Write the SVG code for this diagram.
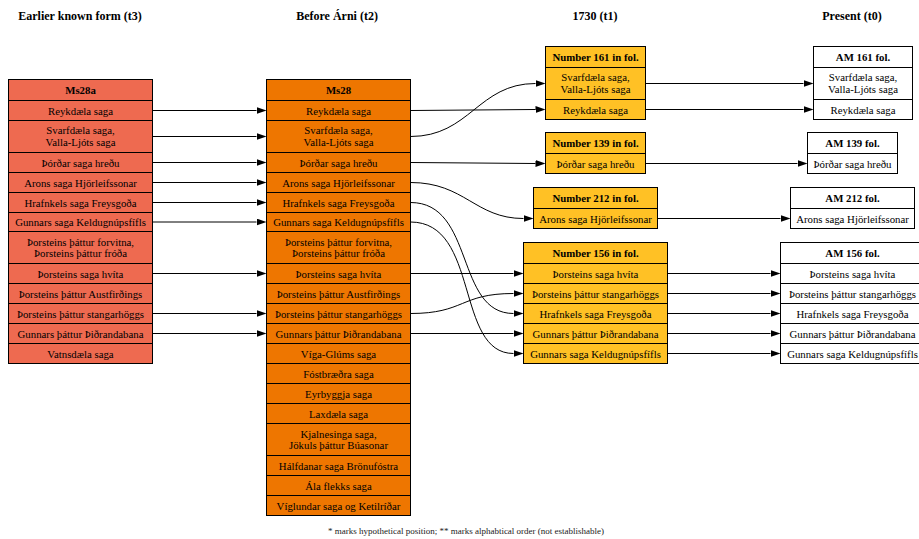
<svg xmlns="http://www.w3.org/2000/svg" width="919" height="539" viewBox="0 0 919 539">
  <defs>
    <marker id="arrow" markerUnits="userSpaceOnUse" markerWidth="10" markerHeight="8" refX="0" refY="3.5" orient="auto">
      <path d="M0,0 L10,3.5 L0,7 z" fill="#000"/>
    </marker>
  </defs>
  <style>
    text { font-family: "Liberation Serif", "Times New Roman", serif; font-size: 10.8px; fill: #000; text-anchor: middle; }
    .col { font-size: 12px; font-weight: bold; }
    .hd { font-weight: bold; }
    .note { font-size: 9px; fill: #222; }
    .tbl rect { stroke: #000; stroke-width: 1; }
    .t3 rect { fill: #EE6A50; }
    .t2 rect { fill: #EE7600; }
    .t1 rect { fill: #FFC125; }
    .t0 rect { fill: #FFFFFF; }
    .edge path { fill: none; stroke: #000; stroke-width: 1; marker-end: url(#arrow); }
  </style>
  <rect width="919" height="539" fill="#fff"/>

  <!-- column titles -->
  <g id="titles">
    <text class="col" x="80" y="20">Earlier known form (t3)</text>
    <text class="col" x="337" y="20">Before Árni (t2)</text>
    <text class="col" x="595" y="20">1730 (t1)</text>
    <text class="col" x="852" y="20">Present (t0)</text>
  </g>

  <!-- t3 -->
  <g id="Ms28a" class="tbl t3">
    <rect x="8.5" y="79.5" width="144" height="21"/>
    <rect x="8.5" y="100.5" width="144" height="20"/>
    <rect x="8.5" y="120.5" width="144" height="32"/>
    <rect x="8.5" y="152.5" width="144" height="20"/>
    <rect x="8.5" y="172.5" width="144" height="20"/>
    <rect x="8.5" y="192.5" width="144" height="20"/>
    <rect x="8.5" y="212.5" width="144" height="19"/>
    <rect x="8.5" y="231.5" width="144" height="32"/>
    <rect x="8.5" y="263.5" width="144" height="20"/>
    <rect x="8.5" y="283.5" width="144" height="20"/>
    <rect x="8.5" y="303.5" width="144" height="20"/>
    <rect x="8.5" y="323.5" width="144" height="20"/>
    <rect x="8.5" y="343.5" width="144" height="20"/>
    <text class="hd" x="80.5" y="94">Ms28a</text>
    <text x="80.5" y="114.5">Reykdæla saga</text>
    <text x="80.5" y="134">Svarfdæla saga,</text>
    <text x="80.5" y="145.5">Valla-Ljóts saga</text>
    <text x="80.5" y="166.5">Þórðar saga hreðu</text>
    <text x="80.5" y="186.5">Arons saga Hjörleifssonar</text>
    <text x="80.5" y="206.5">Hrafnkels saga Freysgoða</text>
    <text x="80.5" y="226">Gunnars saga Keldugnúpsfífls</text>
    <text x="80.5" y="245.5">Þorsteins þáttur forvitna,</text>
    <text x="80.5" y="257">Þorsteins þáttur fróða</text>
    <text x="80.5" y="277.5">Þorsteins saga hvíta</text>
    <text x="80.5" y="297.5">Þorsteins þáttur Austfirðings</text>
    <text x="80.5" y="317.5">Þorsteins þáttur stangarhöggs</text>
    <text x="80.5" y="337.5">Gunnars þáttur Þiðrandabana</text>
    <text x="80.5" y="357.5">Vatnsdæla saga</text>
  </g>

  <!-- t2 -->
  <g id="Ms28" class="tbl t2">
    <rect x="266.5" y="79.5" width="144" height="21"/>
    <rect x="266.5" y="100.5" width="144" height="20"/>
    <rect x="266.5" y="120.5" width="144" height="32"/>
    <rect x="266.5" y="152.5" width="144" height="20"/>
    <rect x="266.5" y="172.5" width="144" height="20"/>
    <rect x="266.5" y="192.5" width="144" height="20"/>
    <rect x="266.5" y="212.5" width="144" height="19"/>
    <rect x="266.5" y="231.5" width="144" height="32"/>
    <rect x="266.5" y="263.5" width="144" height="20"/>
    <rect x="266.5" y="283.5" width="144" height="20"/>
    <rect x="266.5" y="303.5" width="144" height="20"/>
    <rect x="266.5" y="323.5" width="144" height="20"/>
    <rect x="266.5" y="343.5" width="144" height="20"/>
    <rect x="266.5" y="363.5" width="144" height="20"/>
    <rect x="266.5" y="383.5" width="144" height="20"/>
    <rect x="266.5" y="403.5" width="144" height="20"/>
    <rect x="266.5" y="423.5" width="144" height="32"/>
    <rect x="266.5" y="455.5" width="144" height="20"/>
    <rect x="266.5" y="475.5" width="144" height="20"/>
    <rect x="266.5" y="495.5" width="144" height="20"/>
    <text class="hd" x="338.5" y="94">Ms28</text>
    <text x="338.5" y="114.5">Reykdæla saga</text>
    <text x="338.5" y="134">Svarfdæla saga,</text>
    <text x="338.5" y="145.5">Valla-Ljóts saga</text>
    <text x="338.5" y="166.5">Þórðar saga hreðu</text>
    <text x="338.5" y="186.5">Arons saga Hjörleifssonar</text>
    <text x="338.5" y="206.5">Hrafnkels saga Freysgoða</text>
    <text x="338.5" y="226">Gunnars saga Keldugnúpsfífls</text>
    <text x="338.5" y="245.5">Þorsteins þáttur forvitna,</text>
    <text x="338.5" y="257">Þorsteins þáttur fróða</text>
    <text x="338.5" y="277.5">Þorsteins saga hvíta</text>
    <text x="338.5" y="297.5">Þorsteins þáttur Austfirðings</text>
    <text x="338.5" y="317.5">Þorsteins þáttur stangarhöggs</text>
    <text x="338.5" y="337.5">Gunnars þáttur Þiðrandabana</text>
    <text x="338.5" y="357.5">Víga-Glúms saga</text>
    <text x="338.5" y="377.5">Fóstbræðra saga</text>
    <text x="338.5" y="397.5">Eyrbyggja saga</text>
    <text x="338.5" y="417.5">Laxdæla saga</text>
    <text x="338.5" y="437.5">Kjalnesinga saga,</text>
    <text x="338.5" y="449">Jökuls þáttur Búasonar</text>
    <text x="338.5" y="469.5">Hálfdanar saga Brönufóstra</text>
    <text x="338.5" y="489.5">Ála flekks saga</text>
    <text x="338.5" y="509.5">Víglundar saga og Ketilríðar</text>
  </g>

  <!-- t1 -->
  <g id="No161" class="tbl t1">
    <rect x="545.5" y="46.5" width="100" height="21"/>
    <rect x="545.5" y="67.5" width="100" height="32"/>
    <rect x="545.5" y="99.5" width="100" height="20"/>
    <text class="hd" x="595.5" y="61">Number 161 in fol.</text>
    <text x="595.5" y="81">Svarfdæla saga,</text>
    <text x="595.5" y="92.5">Valla-Ljóts saga</text>
    <text x="595.5" y="113.5">Reykdæla saga</text>
  </g>
  <g id="No139" class="tbl t1">
    <rect x="545.5" y="132.5" width="100" height="21"/>
    <rect x="545.5" y="153.5" width="100" height="20"/>
    <text class="hd" x="595.5" y="147">Number 139 in fol.</text>
    <text x="595.5" y="167.5">Þórðar saga hreðu</text>
  </g>
  <g id="No212" class="tbl t1">
    <rect x="533.5" y="187.5" width="124" height="21"/>
    <rect x="533.5" y="208.5" width="124" height="20"/>
    <text class="hd" x="595.5" y="202">Number 212 in fol.</text>
    <text x="595.5" y="222.5">Arons saga Hjörleifssonar</text>
  </g>
  <g id="No156" class="tbl t1">
    <rect x="523.5" y="242.5" width="144" height="21"/>
    <rect x="523.5" y="263.5" width="144" height="20"/>
    <rect x="523.5" y="283.5" width="144" height="20"/>
    <rect x="523.5" y="303.5" width="144" height="20"/>
    <rect x="523.5" y="323.5" width="144" height="20"/>
    <rect x="523.5" y="343.5" width="144" height="20"/>
    <text class="hd" x="595.5" y="257">Number 156 in fol.</text>
    <text x="595.5" y="277.5">Þorsteins saga hvíta</text>
    <text x="595.5" y="297.5">Þorsteins þáttur stangarhöggs</text>
    <text x="595.5" y="317.5">Hrafnkels saga Freysgoða</text>
    <text x="595.5" y="337.5">Gunnars þáttur Þiðrandabana</text>
    <text x="595.5" y="357.5">Gunnars saga Keldugnúpsfífls</text>
  </g>

  <!-- t0 -->
  <g id="AM161" class="tbl t0">
    <rect x="813.5" y="46.5" width="99" height="21"/>
    <rect x="813.5" y="67.5" width="99" height="32"/>
    <rect x="813.5" y="99.5" width="99" height="20"/>
    <text class="hd" x="863" y="61">AM 161 fol.</text>
    <text x="863" y="81">Svarfdæla saga,</text>
    <text x="863" y="92.5">Valla-Ljóts saga</text>
    <text x="863" y="113.5">Reykdæla saga</text>
  </g>
  <g id="AM139" class="tbl t0">
    <rect x="807.5" y="132.5" width="90" height="21"/>
    <rect x="807.5" y="153.5" width="90" height="20"/>
    <text class="hd" x="852.5" y="147">AM 139 fol.</text>
    <text x="852.5" y="167.5">Þórðar saga hreðu</text>
  </g>
  <g id="AM212" class="tbl t0">
    <rect x="790.5" y="187.5" width="124" height="21"/>
    <rect x="790.5" y="208.5" width="124" height="20"/>
    <text class="hd" x="852.5" y="202">AM 212 fol.</text>
    <text x="852.5" y="222.5">Arons saga Hjörleifssonar</text>
  </g>
  <g id="AM156" class="tbl t0">
    <rect x="780.5" y="242.5" width="144" height="21"/>
    <rect x="780.5" y="263.5" width="144" height="20"/>
    <rect x="780.5" y="283.5" width="144" height="20"/>
    <rect x="780.5" y="303.5" width="144" height="20"/>
    <rect x="780.5" y="323.5" width="144" height="20"/>
    <rect x="780.5" y="343.5" width="144" height="20"/>
    <text class="hd" x="852.5" y="257">AM 156 fol.</text>
    <text x="852.5" y="277.5">Þorsteins saga hvíta</text>
    <text x="852.5" y="297.5">Þorsteins þáttur stangarhöggs</text>
    <text x="852.5" y="317.5">Hrafnkels saga Freysgoða</text>
    <text x="852.5" y="337.5">Gunnars þáttur Þiðrandabana</text>
    <text x="852.5" y="357.5">Gunnars saga Keldugnúpsfífls</text>
  </g>

  <!-- connectors -->
  <g id="edges" class="edge">
    <!-- t3 to t2 -->
    <path d="M152.5,110.5 L256.5,110.5"/>
    <path d="M152.5,136.5 L256.5,136.5"/>
    <path d="M152.5,162.5 L256.5,162.5"/>
    <path d="M152.5,182.5 L256.5,182.5"/>
    <path d="M152.5,202.5 L256.5,202.5"/>
    <path d="M152.5,222 L256.5,222"/>
    <path d="M152.5,273.5 L256.5,273.5"/>
    <path d="M152.5,313.5 L256.5,313.5"/>
    <path d="M152.5,333.5 L256.5,333.5"/>
    <!-- t2 to t1 -->
    <path d="M410.5,110.5 L535.5,109.5"/>
    <path d="M410.5,136.5 C470,136.5 478,83.5 535.5,83.5"/>
    <path d="M410.5,162.5 L535.5,163.5"/>
    <path d="M410.5,182.5 C465,182.5 475,218.5 523.5,218.5"/>
    <path d="M410.5,202.5 C475,202.5 455,313.5 513.5,313.5"/>
    <path d="M410.5,222 C480,222 455,353.5 513.5,353.5"/>
    <path d="M410.5,273.5 L513.5,273.5"/>
    <path d="M410.5,313.5 C465,313.5 460,293.5 513.5,293.5"/>
    <path d="M410.5,333.5 L513.5,333.5"/>
    <!-- t1 to t0 -->
    <path d="M645.5,83.5 L803.5,83.5"/>
    <path d="M645.5,109.5 L803.5,109.5"/>
    <path d="M645.5,163.5 L797.5,163.5"/>
    <path d="M657.5,218.5 L780.5,218.5"/>
    <path d="M667.5,273.5 L770.5,273.5"/>
    <path d="M667.5,293.5 L770.5,293.5"/>
    <path d="M667.5,313.5 L770.5,313.5"/>
    <path d="M667.5,333.5 L770.5,333.5"/>
    <path d="M667.5,353.5 L770.5,353.5"/>
  </g>

  <text class="note" x="466" y="534">* marks hypothetical position; ** marks alphabtical order (not establishable)</text>
</svg>
